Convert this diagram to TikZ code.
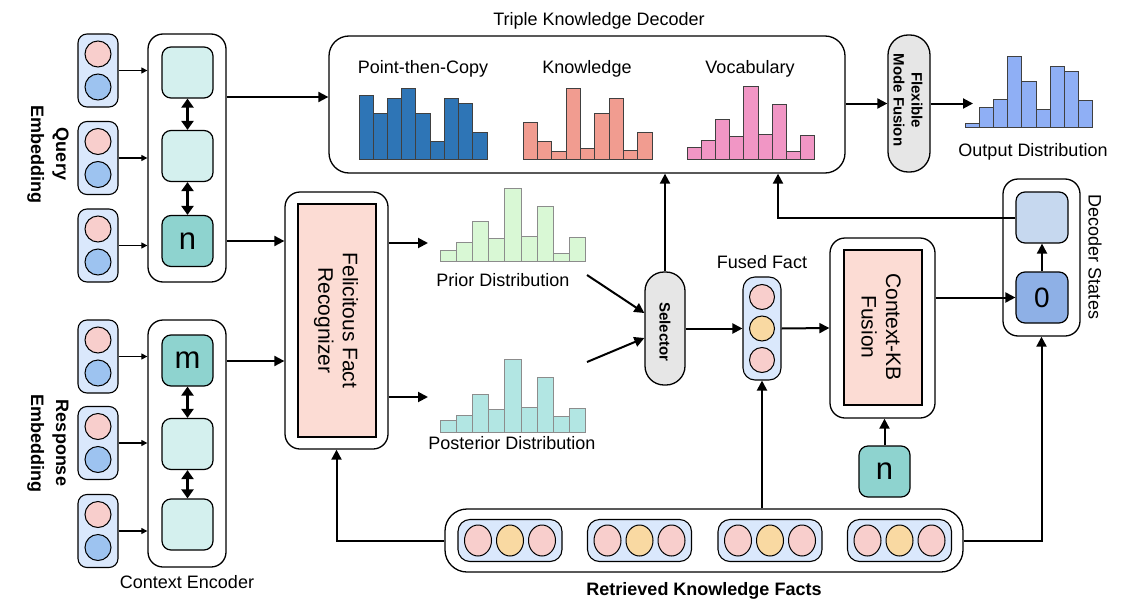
\documentclass[tikz,border=0pt]{standalone}
\usepackage{fontspec}
\setmainfont{Liberation Sans}
\usetikzlibrary{arrows.meta,shapes.geometric}
\definecolor{embbg}{HTML}{DAE8FC}
\definecolor{cpink}{HTML}{F8CECC}
\definecolor{cblue}{HTML}{9DC3F0}
\definecolor{cyel}{HTML}{F9D9A2}
\definecolor{celllight}{HTML}{D4F0EE}
\definecolor{cellteal}{HTML}{8ED3CF}
\definecolor{pinkbox}{HTML}{FCDCD4}
\definecolor{pillgray}{HTML}{E6E6E6}
\definecolor{dsl}{HTML}{C6D8EF}
\definecolor{dsd}{HTML}{8EB0E6}
\definecolor{barblue}{HTML}{2E75B6}
\definecolor{barsalmon}{HTML}{F19C90}
\definecolor{barpink}{HTML}{F196C5}
\definecolor{barout}{HTML}{8FAFF5}
\definecolor{bargreen}{HTML}{D9F8D5}
\definecolor{barteal}{HTML}{B2E6E3}
\newcommand\histo[6]{% x0, width, baseline, fill, draw, tops
  \foreach \t [count=\i from 0] in {#6} {
    \draw[fill=#4, draw=#5, line width=0.8pt] ({#1+\i*#2},#3) rectangle ({#1+(\i+1)*#2},\t);
  }}
\begin{document}
\begin{tikzpicture}[x=1pt,y=-1pt,
  emb/.style={draw, line width=1.1pt, fill=embbg, rounded corners=9pt, minimum width=40pt, minimum height=73pt, inner sep=0},
  dot/.style={draw, line width=1pt, circle, minimum size=26pt, inner sep=0},
  edot/.style={draw, line width=1pt, ellipse, minimum width=27pt, minimum height=31pt, inner sep=0},
  cont/.style={draw, line width=1.3pt, rounded corners=15pt, fill=white, inner sep=0},
  cell/.style={draw, line width=1.2pt, rounded corners=9pt, minimum size=51pt, inner sep=0, font=\fontsize{31}{34}\selectfont},
  inbox/.style={draw, line width=2pt, fill=pinkbox, inner sep=0},
  pill/.style={draw, line width=1.3pt, fill=pillgray, inner sep=0},
  arr/.style={-{Triangle[length=10pt,width=10pt]}, line width=2pt},
  tarr/.style={-{Triangle[length=6pt,width=6pt]}, line width=1.2pt},
  darr/.style={{Triangle[length=9pt,width=12pt]}-{Triangle[length=9pt,width=12pt]}, line width=2.4pt},
  lbl/.style={font=\fontsize{18}{21}\selectfont, inner sep=0},
  blbl/.style={font=\fontsize{18}{25}\selectfont\bfseries, align=center, inner sep=0},
  big/.style={font=\fontsize{21}{24.5}\selectfont, align=center, inner sep=0},
  sbl/.style={font=\fontsize{15}{18}\selectfont\bfseries, align=center, inner sep=0},
  ]
\useasboundingbox (0,0) rectangle (1137,605);

% ---------- embeddings ----------
\foreach \n/\y in {q1/70.5, q2/158, q3/245.5, r1/356.5, r2/443, r3/531} {
  \node[emb] (\n) at (98,\y) {};
  \node[dot, fill=cpink] (\n a) at (98,{\y-16.5}) {};
  \node[dot, fill=cblue] (\n b) at (98,{\y+16.5}) {};
}
\node[blbl, rotate=-90] (qlab) at (48,154) {Query\\Embedding};
\node[blbl, rotate=-90] (rlab) at (48,443) {Response\\Embedding};

% ---------- context encoder ----------
\node[cont, minimum width=78pt, minimum height=248pt] (qenc) at (187,158) {};
\node[cell, fill=celllight] (qc1) at (187.5,72.5) {};
\node[cell, fill=celllight] (qc2) at (187.5,156) {};
\node[cell, fill=cellteal] (qc3) at (187.5,241) {n};
\node[cont, minimum width=78pt, minimum height=247pt] (renc) at (187,443.5) {};
\node[cell, fill=cellteal] (rc1) at (187.5,360.5) {m};
\node[cell, fill=celllight] (rc2) at (187.5,444) {};
\node[cell, fill=celllight] (rc3) at (187.5,524.5) {};
\node[lbl] (celab) at (187,582) {Context Encoder};

\draw[darr] (qc1.south) -- (qc2.north);
\draw[darr] (qc2.south) -- (qc3.north);
\draw[darr] (rc1.south) -- (rc2.north);
\draw[darr] (rc2.south) -- (rc3.north);

\foreach \n in {q1,q2,q3} \draw[tarr] (\n.east) -- (\n.east -| qenc.west);
\foreach \n in {r1,r2,r3} \draw[tarr] (\n.east) -- (\n.east -| renc.west);

% ---------- felicitous fact recognizer ----------
\node[cont, minimum width=103pt, minimum height=257pt] (ffr) at (336.5,320.5) {};
\node[inbox, minimum width=78pt, minimum height=233pt] (ffrin) at (337,320.5) {};
\node[big, rotate=-90] (ffrt) at (336,320.5) {Felicitous Fact\\Recognizer};

\draw[arr] (qenc.east |- 0,241) -- (ffr.west |- 0,241);
\draw[arr] (renc.east |- 0,361) -- (ffr.west |- 0,361);

% ---------- triple knowledge decoder ----------
\node[cont, rounded corners=20pt, minimum width=516pt, minimum height=137pt] (tkd) at (587,104.5) {};
\node[lbl] (tkdt) at (599,21) {Triple Knowledge Decoder};
\node[lbl] (ptc) at (423,69) {Point-then-Copy};
\node[lbl] (kn) at (587,69) {Knowledge};
\node[lbl] (voc) at (750,69) {Vocabulary};
\histo{359}{14.22}{159}{barblue}{black!75}{95.3,113.3,98.3,88.3,113.3,141.3,98.3,103.3,132.3}
\histo{523}{14.33}{159}{barsalmon}{black!75}{122.3,141.3,151.3,88.3,148.7,113.3,98.3,150.7,132.3}
\histo{687}{14.2}{159}{barpink}{black!75}{147.7,140.7,119.3,136.7,86.7,134.7,104.7,151.7,135.3}
\draw[arr] (qenc.east |- 0,97) -- (tkd.west |- 0,97);

% ---------- flexible mode fusion & output ----------
\node[pill, rounded corners=20pt, minimum width=42pt, minimum height=137pt] (fmf) at (909,103.5) {};
\node[sbl, rotate=-90] (fmft) at (908,100) {Flexible\\Mode Fusion};
\draw[arr] (tkd.east |- fmf.west) -- (fmf.west);
\coordinate (outin) at (973,103.5);
\draw[arr] (fmf.east) -- (outin);
\histo{965}{14.2}{127.3}{barout}{black!75}{123.3,107.3,99.3,56,81.3,109.3,66,71.3,100.3}
\node[lbl] (outl) at (1033,152) {Output Distribution};

% ---------- prior / posterior ----------
\coordinate (priorin) at (428,243);
\coordinate (postin) at (428,397);
\draw[arr] (ffr.east |- priorin) -- (priorin);
\draw[arr] (ffr.east |- postin) -- (postin);
\histo{440}{16.2}{261}{bargreen}{black!45}{250,242.3,221.3,238.3,188.3,236.7,206.7,253.3,237.3}
\histo{440}{16.2}{432}{barteal}{black!45}{420,415,394.3,409.3,359,407.3,377.3,416,408.3}
\node[lbl] (priorl) at (503,280) {Prior Distribution};
\node[lbl] (postl) at (512,443) {Posterior Distribution};

% ---------- selector ----------
\node[pill, rounded corners=19pt, minimum width=40pt, minimum height=113pt] (sel) at (665,328.5) {};
\node[sbl, rotate=-90] (selt) at (665,332) {Selector};
\coordinate (priorout) at (587,275);
\coordinate (postout) at (587,362);
\draw[arr] (priorout) -- (sel.west |- 0,313);
\draw[arr] (postout) -- (sel.west |- 0,338);
\draw[arr] (sel.north) -- (sel.north |- tkd.south);

% ---------- fused fact ----------
\node[emb, minimum width=38pt, minimum height=103pt, rounded corners=12pt] (fused) at (762,328.5) {};
\node[dot, minimum size=25pt, fill=cpink] (f1) at (762,297) {};
\node[dot, minimum size=25pt, fill=cyel] (f2) at (762,328.5) {};
\node[dot, minimum size=25pt, fill=cpink] (f3) at (762,360) {};
\node[lbl] (fusedl) at (762,262) {Fused Fact};
\draw[arr] (sel.east) -- (fused.west);

% ---------- context-kb fusion ----------
\node[cont, minimum width=105pt, minimum height=180pt] (ckb) at (882.5,328) {};
\node[inbox, minimum width=78pt, minimum height=155pt] (ckbin) at (883,327.5) {};
\node[big, rotate=-90] (ckbt) at (881,327) {Context-KB\\Fusion};
\draw[arr] (fused.east) -- (ckb.west);
\node[cell, fill=cellteal] (nbot) at (884.5,471.5) {n};
\draw[arr] (nbot.north) -- (nbot.north |- ckb.south);

% ---------- decoder states ----------
\node[cont, minimum width=77pt, minimum height=157pt] (ds) at (1041.5,257.5) {};
\node[cell, fill=dsl, minimum width=52pt] (ds1) at (1042,217.5) {};
\node[cell, fill=dsd, minimum width=52pt, font=\fontsize{28}{32}\selectfont] (ds0) at (1042,297.5) {0};
\node[lbl, rotate=-90] (dsl) at (1095,257) {Decoder States};
\draw[arr] (ds0.north) -- (ds1.south);
\draw[arr] (ckb.east |- ds0.west) -- (ds0.west);
\draw[arr] (ds1.west) -| (tkd.south -| 778,0);

% ---------- retrieved knowledge facts ----------
\node[cont, rounded corners=22pt, minimum width=518pt, minimum height=63pt] (facts) at (704,540.5) {};
\foreach \g/\x in {g1/510, g2/639.5, g3/770, g4/899.5} {
  \node[emb, minimum width=104pt, minimum height=42pt, rounded corners=12pt] (\g) at (\x,540.5) {};
  \node[edot, fill=cpink] (\g a) at ({\x-32},540.5) {};
  \node[edot, fill=cyel] (\g b) at (\x,540.5) {};
  \node[edot, fill=cpink] (\g c) at ({\x+32},540.5) {};
}
\node[blbl] (factsl) at (704,591) {Retrieved Knowledge Facts};
\draw[arr] (facts.north -| fused.south) -- (fused.south);
\draw[arr] (facts.west) -| (ffr.south);
\draw[arr] (facts.east) -| (ds.south);
\end{tikzpicture}
\end{document}
